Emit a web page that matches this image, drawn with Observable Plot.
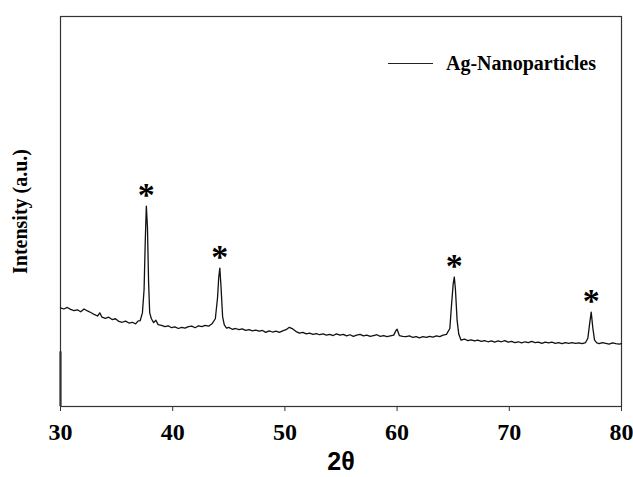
<!DOCTYPE html>
<html><head><meta charset="utf-8">
<script src="https://cdn.jsdelivr.net/npm/d3@7"></script>
<script src="https://cdn.jsdelivr.net/npm/@observablehq/plot@0.6"></script>
<style>
body{margin:0;background:#fff;}
#wrap{position:relative;width:633px;height:477px;}
#legend{position:absolute;left:388px;top:50px;height:26px;display:flex;align-items:center;font-family:"Liberation Serif",serif;font-weight:bold;font-size:20px;color:#000;white-space:nowrap;}
#legend .sw{width:45px;height:0;border-top:1.3px solid #222;margin-right:13px;}
</style>
</head><body>
<div id="wrap"><div id="legend"><span class="sw"></span><span id="legtext"></span></div></div>
<script>
const seriesName = "Ag-Nanoparticles";
const xTicks = [30, 40, 50, 60, 70, 80];
const twoTheta = [30.0,30.3,30.6,30.9,31.2,31.5,31.8,32.1,32.4,32.7,33.0,33.3,33.5,33.7,34.0,34.3,34.6,34.9,35.2,35.5,35.8,36.1,36.4,36.7,36.9,37.1,37.3,37.45,37.55,37.65,37.75,37.85,37.95,38.1,38.3,38.5,38.7,39.0,39.3,39.6,39.9,40.2,40.5,40.8,41.1,41.4,41.7,42.0,42.3,42.6,42.9,43.2,43.5,43.8,44.0,44.1,44.2,44.3,44.45,44.6,44.8,45.0,45.3,45.6,45.9,46.2,46.5,46.8,47.1,47.4,47.7,48.0,48.3,48.6,48.9,49.2,49.5,49.8,50.1,50.4,50.7,51.0,51.3,51.6,51.9,52.2,52.5,52.8,53.1,53.4,53.7,54.0,54.3,54.6,54.9,55.2,55.5,55.8,56.1,56.4,56.7,57.0,57.3,57.6,57.9,58.2,58.5,58.8,59.1,59.4,59.7,59.9,60.0,60.2,60.5,60.8,61.1,61.4,61.7,62.0,62.3,62.6,62.9,63.2,63.5,63.8,64.1,64.4,64.7,64.85,65.0,65.1,65.2,65.35,65.5,65.7,66.0,66.3,66.6,66.9,67.2,67.5,67.8,68.1,68.4,68.7,69.0,69.3,69.6,69.9,70.2,70.5,70.8,71.1,71.4,71.7,72.0,72.3,72.6,72.9,73.2,73.5,73.8,74.1,74.4,74.7,75.0,75.3,75.6,75.9,76.2,76.5,76.8,77.0,77.15,77.3,77.45,77.6,77.8,78.0,78.3,78.6,78.9,79.2,79.5,79.8,80.0];
const intensity = [25.3,25.0,25.4,24.9,24.6,24.8,24.3,25.0,24.5,24.1,23.6,23.2,24.0,22.9,22.6,22.9,22.3,22.5,21.8,21.6,21.9,21.4,21.6,21.2,21.9,22.0,24.0,30.0,42.0,51.4,46.0,32.0,24.0,22.5,21.5,22.1,21.0,20.8,20.5,20.7,20.2,20.4,20.0,20.3,20.1,20.5,20.6,20.2,20.7,20.5,20.8,20.6,21.2,22.5,28.0,33.0,35.5,31.0,23.0,20.9,20.1,20.3,19.8,20.0,19.7,19.9,19.5,19.7,19.4,19.6,19.3,19.5,19.0,19.4,19.1,19.3,19.0,19.4,19.7,20.3,19.9,19.2,18.8,19.0,18.6,18.8,18.5,18.7,18.4,18.6,18.3,18.5,18.2,18.6,18.3,18.5,18.1,18.4,18.0,18.3,18.5,18.1,18.3,18.0,18.2,18.4,18.0,18.2,17.9,18.1,18.3,19.5,19.8,18.2,18.0,17.9,18.1,17.7,17.9,17.6,17.9,17.7,18.0,17.8,18.1,17.9,18.3,18.5,20.0,26.0,31.5,33.2,30.0,22.0,18.5,17.0,17.3,16.9,17.1,16.8,17.0,16.7,16.9,16.6,16.8,16.5,16.8,16.6,16.9,16.5,16.7,16.4,16.6,16.3,16.6,16.4,16.7,16.4,16.5,16.2,16.5,16.3,16.5,16.2,16.4,16.1,16.4,16.2,16.4,16.2,16.3,16.1,16.4,17.5,21.0,24.2,20.0,17.0,16.3,16.1,16.4,16.2,16.0,16.3,16.1,16.0,16.1];
const peakX = [37.65, 44.2, 65.1, 77.3];
const peakY = [51.4, 35.5, 33.2, 24.2];

const data = twoTheta.map((x, i) => ({x, y: intensity[i]}));
const peaks = peakX.map((x, i) => ({x, y: peakY[i]}));

const chart = Plot.plot({
  width: 633, height: 477,
  marginTop: 16, marginBottom: 71, marginLeft: 60, marginRight: 12,
  style: {fontFamily: "'Liberation Serif', serif", color: "#000", background: "#fff"},
  x: {domain: [30, 80]},
  y: {domain: [0, 100]},
  marks: [
    Plot.frame({stroke: "#333", strokeWidth: 1.2}),
    Plot.ruleX([30], {y1: 0, y2: 14, stroke: "#333", strokeWidth: 2.2}),
    Plot.line(data, {x: "x", y: "y", stroke: "#111", strokeWidth: 1.3}),
    Plot.text(peaks, {x: "x", y: "y", text: d => "*", fontSize: 34, fontWeight: "bold", fill: "#000", lineAnchor: "middle", dy: -11}),
    Plot.axisX({ticks: xTicks, tickSize: 5, tickPadding: 11, fontSize: 24, fontWeight: "bold", label: null, tickFormat: d3.format("d"), stroke: "#333"}),
    Plot.axisY({ticks: [], label: "Intensity (a.u.)", labelAnchor: "center", labelArrow: "none", labelOffset: 48, fontSize: 20, fontWeight: "bold"}),
    Plot.text(["2θ"], {frameAnchor: "bottom", dy: 55, fontSize: 25, fontWeight: "bold", fontFamily: "'Liberation Sans', sans-serif", lineAnchor: "middle"})
  ]
});
document.getElementById("legtext").textContent = seriesName;
document.getElementById("wrap").prepend(chart);
</script>
</body></html>
